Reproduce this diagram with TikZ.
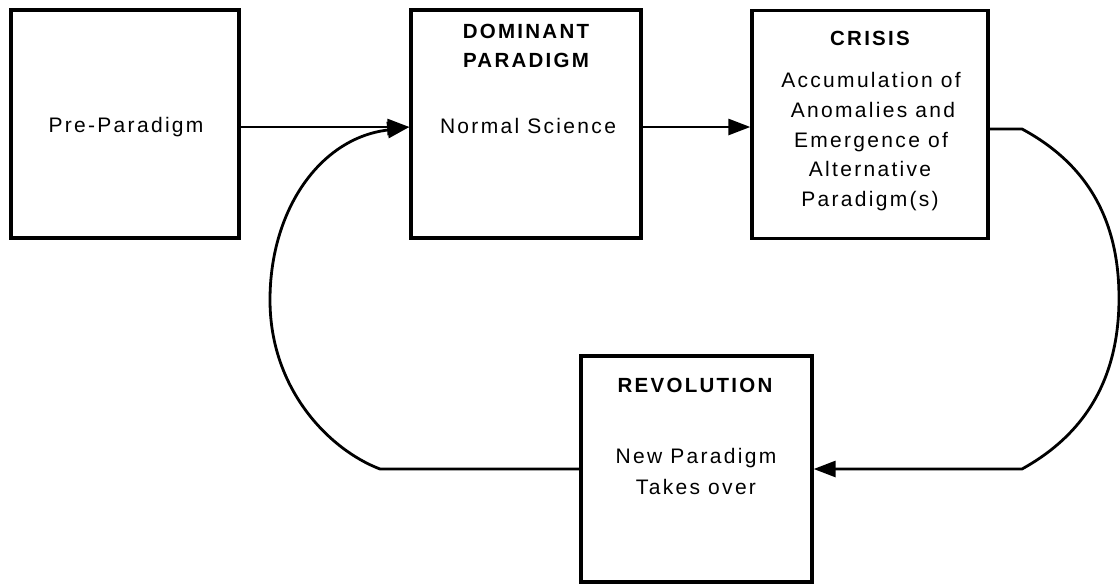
\documentclass[tikz,border=0pt]{standalone}
\usepackage{fontspec}
\setmainfont{Liberation Sans}[LetterSpace=11]
\usetikzlibrary{arrows.meta}
\begin{document}
\begin{tikzpicture}[x=1pt,y=-1pt,
  stagebox/.style={draw=black, line width=3.3pt, rectangle, inner sep=0pt},
  bodytext/.style={font=\fontsize{21}{25}\selectfont, anchor=base, inner sep=0pt},
  headtext/.style={font=\fontsize{20.5}{25}\selectfont\bfseries, anchor=base, inner sep=0pt},
  conn/.style={line width=2.8pt, -{Triangle[length=22pt,width=16pt]}}]
\useasboundingbox (0,0) rectangle (1120,584);

% stage boxes
\node[stagebox, minimum width=228pt, minimum height=228pt] (pre) at (125,124) {};
\node[stagebox, minimum width=230pt, minimum height=228pt] (dom) at (526,124) {};
\node[stagebox, minimum width=236pt, minimum height=228pt] (crisis) at (870,124.5) {};
\node[stagebox, minimum width=231pt, minimum height=226pt] (rev) at (696.5,469) {};

% texts
\node[bodytext] (preT) at (126,132) {Pre-Paradigm};

\node[headtext] (domH1) at (526,38) {DOMINANT};
\node[headtext] (domH2) at (526,67) {PARADIGM};
\node[bodytext] (domT) at (528,133) {Normal Science};

\node[headtext] (crisisH) at (870,45) {CRISIS};
\node[bodytext] (crisisA) at (871,87.5) {Accumulation of};
\node[bodytext] (crisisB) at (873,117.5) {Anomalies and};
\node[bodytext] (crisisC) at (871,147) {Emergence of};
\node[bodytext] (crisisD) at (870,176.5) {Alternative};
\node[bodytext] (crisisE) at (870,206) {Paradigm(s)};

\node[headtext] (revH) at (695,392) {REVOLUTION};
\node[bodytext] (revA) at (696,463) {New Paradigm};
\node[bodytext] (revB) at (696,494) {Takes over};

% connectors
\draw[conn] ([yshift=-3pt]pre.east) -- ([yshift=-3pt]dom.west);
\draw[conn] ([yshift=-3pt]dom.east) -- ([yshift=-2.5pt]crisis.west);
\draw[conn] ([yshift=-4.5pt]crisis.east) -- (1022,129)
  .. controls (1089,165) and (1119,222) .. (1119,298)
  .. controls (1119,374) and (1089,432) .. (1022,469) -- (rev.east);
\draw[conn] (rev.west) -- (380,469)
  .. controls (330,450) and (270,390) .. (270,300)
  .. controls (270,210) and (320,138) .. (388,130) -- ([yshift=-3pt]dom.west);
\end{tikzpicture}
\end{document}
